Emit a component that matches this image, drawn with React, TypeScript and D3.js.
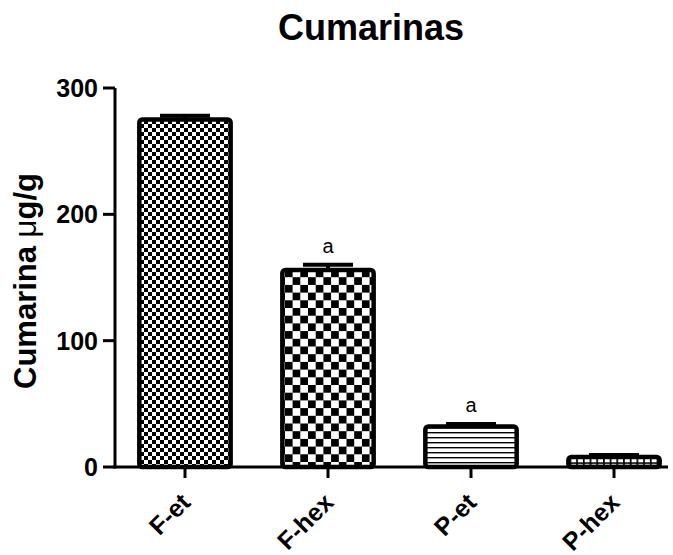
import React from "react";
import * as d3 from "d3";

const categories = ["F-et", "F-hex", "P-et", "P-hex"];
const means = [275, 156, 32, 8];
const errors = [3, 4, 2, 1.5];
const letters = ["", "a", "a", ""];
const yTicks = [0, 100, 200, 300];
const patternIds = ["fineCheck", "coarseCheck", "hLines", "smallGrid"];

const W = 673;
const H = 555;
const FONT = "'Liberation Sans', Arial, Helvetica, sans-serif";

export default function App() {
  const y = d3.scaleLinear().domain([0, 300]).range([467, 88]);
  const x = d3
    .scaleBand<string>()
    .domain(categories)
    .range([113.5, 685.5])
    .paddingInner(0.33)
    .paddingOuter(0.165);
  const bw = x.bandwidth();
  const axisX = 115;
  const axisY = y(0);

  return (
    <svg
      width={W}
      height={H}
      style={{ position: "absolute", left: 0, top: 0, background: "#fff" }}
      fontFamily={FONT}
    >
      <defs>
        <pattern id="fineCheck" width={8} height={8} patternUnits="userSpaceOnUse">
          <rect width={8} height={8} fill="#fff" />
          <rect width={4} height={4} fill="#000" />
          <rect x={4} y={4} width={4} height={4} fill="#000" />
        </pattern>
        <pattern id="coarseCheck" width={15.4} height={15.4} patternUnits="userSpaceOnUse">
          <rect width={15.4} height={15.4} fill="#fff" />
          <rect width={7.7} height={7.7} fill="#000" />
          <rect x={7.7} y={7.7} width={7.7} height={7.7} fill="#000" />
        </pattern>
        <pattern id="hLines" width={10} height={5} patternUnits="userSpaceOnUse">
          <rect width={10} height={5} fill="#fff" />
          <rect y={2} width={10} height={1.4} fill="#000" />
        </pattern>
        <pattern id="smallGrid" width={6.7} height={6.7} patternUnits="userSpaceOnUse">
          <rect width={6.7} height={6.7} fill="#000" />
          <rect x={1.7} y={1.7} width={5} height={5} fill="#fff" />
        </pattern>
      </defs>

      <text x={371} y={40} textAnchor="middle" fontSize={36} fontWeight="bold">
        Cumarinas
      </text>

      <text
        transform={`translate(36,281) rotate(-90)`}
        textAnchor="middle"
        fontSize={31}
        fontWeight="bold"
      >
        Cumarina <tspan fontWeight="normal">μ</tspan>g/g
      </text>

      {categories.map((c, i) => {
        const x0 = x(c)!;
        const cx = x0 + bw / 2;
        const top = y(means[i]);
        const capY = y(means[i] + errors[i]);
        return (
          <g key={c}>
            <line x1={cx} x2={cx} y1={top} y2={capY} stroke="#000" strokeWidth={4} />
            <line x1={cx - 25} x2={cx + 25} y1={capY} y2={capY} stroke="#000" strokeWidth={4} />
            <rect
              x={x0 + 2.25}
              y={top}
              width={bw - 4.5}
              height={axisY - top}
              rx={3}
              fill={`url(#${patternIds[i]})`}
              stroke="#000"
              strokeWidth={4.5}
            />
            {letters[i] && (
              <text x={cx} y={capY - 12} textAnchor="middle" fontSize={20}>
                {letters[i]}
              </text>
            )}
          </g>
        );
      })}

      {/* axes */}
      <line x1={axisX} x2={axisX} y1={y(300)} y2={axisY + 1.5} stroke="#000" strokeWidth={3} />
      <line x1={axisX - 1.5} x2={668} y1={axisY} y2={axisY} stroke="#000" strokeWidth={3} />

      {yTicks.map((t) => (
        <g key={t}>
          <line x1={axisX - 12} x2={axisX} y1={y(t)} y2={y(t)} stroke="#000" strokeWidth={3} />
          <text
            x={axisX - 17}
            y={y(t)}
            dy="0.36em"
            textAnchor="end"
            fontSize={25}
            fontWeight="bold"
          >
            {t}
          </text>
        </g>
      ))}

      {categories.map((c) => {
        const cx = x(c)! + bw / 2;
        return (
          <g key={c}>
            <line x1={cx} x2={cx} y1={axisY} y2={axisY + 11} stroke="#000" strokeWidth={3} />
            <text
              transform={`translate(${cx + 7},${504}) rotate(-45)`}
              textAnchor="end"
              fontSize={25}
              fontWeight="bold"
            >
              {c}
            </text>
          </g>
        );
      })}
    </svg>
  );
}
